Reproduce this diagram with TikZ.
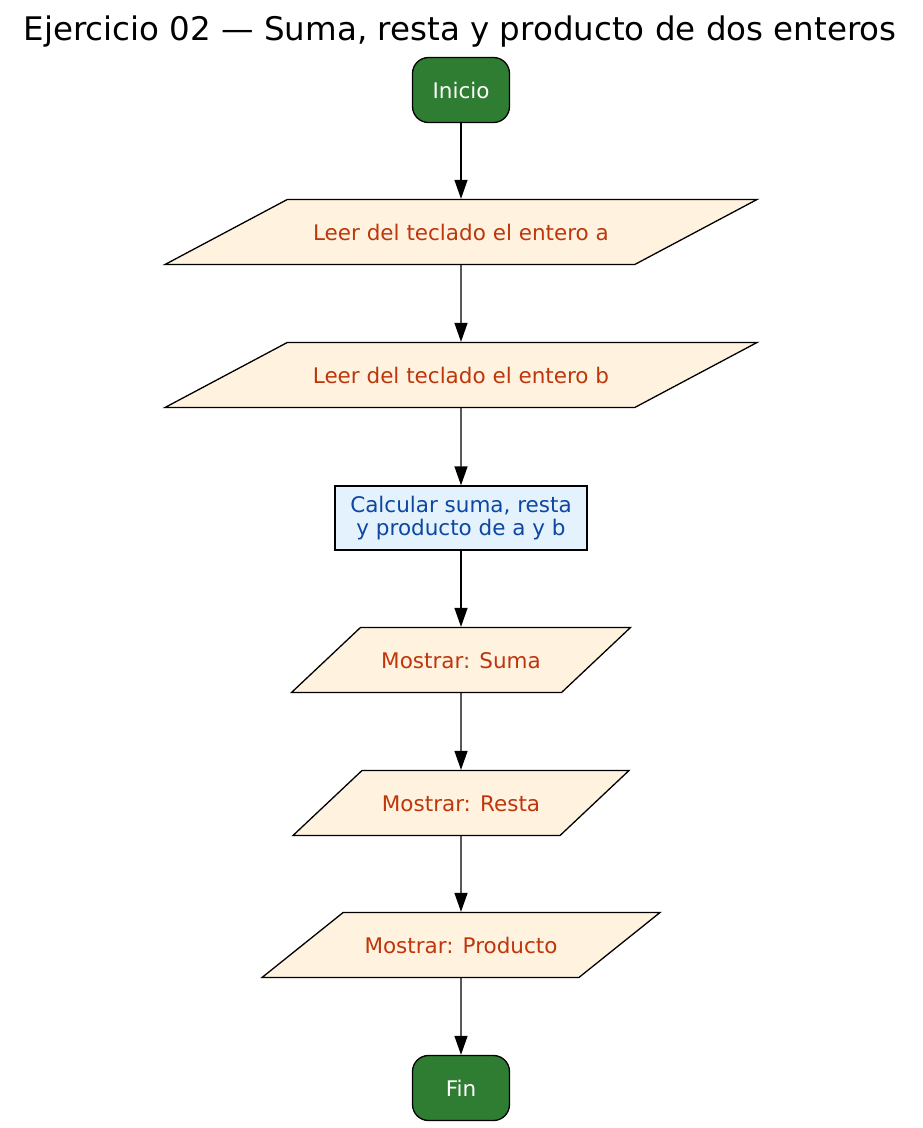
\documentclass[tikz,border=0pt]{standalone}
\usepackage{fontspec}
\setmainfont{DejaVu Sans}
\usetikzlibrary{shapes.geometric}
\usetikzlibrary{arrows.meta}
\definecolor{verdeterm}{HTML}{2E7D32}
\definecolor{fondoleer}{HTML}{FFF3E0}
\definecolor{textoleer}{HTML}{BF360C}
\definecolor{fondocalc}{HTML}{E3F2FD}
\definecolor{textocalc}{HTML}{0D47A1}

\begin{document}
\begin{tikzpicture}[x=1pt,y=-1pt,line width=1.3pt,
   term/.style={draw,fill=verdeterm,text=white,rounded corners=16pt,
     minimum width=97pt,minimum height=65pt,font=\fontsize{21.5}{24}\selectfont},
   es/.style={draw,trapezium,trapezium stretches body,fill=fondoleer,text=textoleer,
     text height=19pt,text depth=2pt,inner xsep=0pt,inner ysep=22pt,
     font=\fontsize{21.5}{24}\selectfont},
   proc/.style={draw,fill=fondocalc,text=textocalc,align=center,
     minimum width=252pt,minimum height=64pt,font=\fontsize{21.5}{23.5}\selectfont},
   flecha/.style={-{Triangle[length=19pt,width=13pt]}}]
   \useasboundingbox (0,0) rectangle (923,1128);
   \node[anchor=base,font=\fontsize{32.5}{36}\selectfont] (titulo) at (460,40) {Ejercicio 02 --- Suma, resta y producto de dos enteros};
   %
   \node[term] (inicio) at (461,90) {Inicio};
   \node[es,minimum width=592pt,trapezium left angle=28,trapezium right angle=152] (leerA) at (461,232) {Leer del teclado el entero a};
   \node[es,minimum width=592pt,trapezium left angle=28,trapezium right angle=152] (leerB) at (461,375) {Leer del teclado el entero b};
   \node[proc] (calc) at (461,518) {Calcular suma, resta\\y producto de a y b};
   \node[es,minimum width=339pt,trapezium left angle=43.3,trapezium right angle=136.7] (suma) at (461,660) {Mostrar: Suma};
   \node[es,minimum width=336pt,trapezium left angle=43.3,trapezium right angle=136.7] (resta) at (461,803) {Mostrar: Resta};
   \node[es,minimum width=398pt,trapezium left angle=38.7,trapezium right angle=141.3] (producto) at (461,945) {Mostrar: Producto};
   \node[term] (fin) at (461,1088) {Fin};
   %
   \foreach \a/\b in {inicio/leerA,leerA/leerB,leerB/calc,calc/suma,suma/resta,resta/producto,producto/fin}
     \draw[flecha] (\a) -- (\b);
   %
\end{tikzpicture}
\end{document}
